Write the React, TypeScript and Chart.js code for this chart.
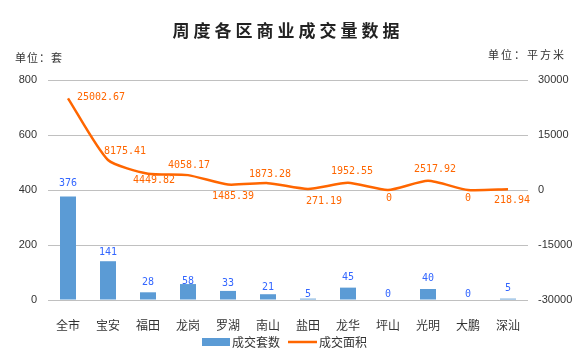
import React, { useEffect, useRef } from "react";
import { Chart, registerables } from "chart.js";

Chart.register(...registerables);

const categories = ["全市", "宝安", "福田", "龙岗", "罗湖", "南山", "盐田", "龙华", "坪山", "光明", "大鹏", "深汕"];
const unitCounts = [376, 141, 28, 58, 33, 21, 5, 45, 0, 40, 0, 5];
const areaValues = [25002.67, 8175.41, 4449.82, 4058.17, 1485.39, 1873.28, 271.19, 1952.55, 0, 2517.92, 0, 218.94];
const areaLabels = ["25002.67", "8175.41", "4449.82", "4058.17", "1485.39", "1873.28", "271.19", "1952.55", "0", "2517.92", "0", "218.94"];
const leftTicks = [0, 200, 400, 600, 800];
const rightTicks = [-30000, -15000, 0, 15000, 30000];

// label placement offsets (dx, dy) relative to each line point
const areaLabelOffsets: [number, number][] = [
  [33, -1], [17, -9], [6, 7], [1, -10], [5, 12], [2, -9],
  [16, 12], [4, -11], [1, 8], [7, -11], [0, 8], [4, 11],
];
const barLabelDy = [-13, -9, -10, -3, -8, -7, -4, -10, -6, -11, -6, -10];

const BLUE = "#5B9BD5";
const ORANGE = "#FF6600";
const LABEL_BLUE = "#3366FF";
const GRID = "#C0C0C0";
const SANS = "'Liberation Sans', Arial, sans-serif";
const CJK = "'Noto Sans CJK SC', sans-serif";
const MONO = "'DejaVu Sans Mono', monospace";

const decorPlugin = {
  id: "decor",
  afterDraw(chart: any) {
    const ctx = chart.ctx as CanvasRenderingContext2D;
    ctx.save();
    // title
    ctx.fillStyle = "#222";
    ctx.font = `bold 17px ${CJK}`;
    (ctx as any).letterSpacing = "4px";
    ctx.textAlign = "center";
    ctx.textBaseline = "middle";
    ctx.fillText("周度各区商业成交量数据", 288, 31);
    // units
    ctx.font = `11px ${CJK}`;
    (ctx as any).letterSpacing = "1px";
    ctx.fillStyle = "#333";
    ctx.textAlign = "left";
    ctx.fillText("单位：套", 15, 58);
    ctx.textAlign = "right";
    (ctx as any).letterSpacing = "2px";
    ctx.fillText("单位：平方米", 566, 55);
    (ctx as any).letterSpacing = "0px";

    // bar labels
    const barMeta = chart.getDatasetMeta(0);
    ctx.font = `10px ${MONO}`;
    ctx.fillStyle = LABEL_BLUE;
    ctx.textAlign = "center";
    barMeta.data.forEach((el: any, i: number) => {
      ctx.fillText(String(unitCounts[i]), el.x, el.y + barLabelDy[i]);
    });
    // line labels
    const lineMeta = chart.getDatasetMeta(1);
    ctx.fillStyle = ORANGE;
    lineMeta.data.forEach((el: any, i: number) => {
      const [dx, dy] = areaLabelOffsets[i];
      ctx.fillText(areaLabels[i], el.x + dx, el.y + dy);
    });

    // legend
    ctx.fillStyle = BLUE;
    ctx.fillRect(202, 338, 28, 8);
    ctx.fillStyle = "#333";
    ctx.font = `12px ${CJK}`;
    ctx.textAlign = "left";
    ctx.fillText("成交套数", 232, 342);
    ctx.strokeStyle = ORANGE;
    ctx.lineWidth = 2.5;
    ctx.beginPath();
    ctx.moveTo(288, 342);
    ctx.lineTo(317, 342);
    ctx.stroke();
    ctx.fillText("成交面积", 319, 342);
    ctx.restore();
  },
};

export default function App() {
  const ref = useRef<HTMLCanvasElement>(null);
  useEffect(() => {
    document.body.style.margin = "0";
    const chart = new Chart(ref.current!, {
      type: "bar",
      data: {
        labels: categories,
        datasets: [
          {
            type: "bar",
            label: "成交套数",
            data: unitCounts,
            backgroundColor: BLUE,
            barPercentage: 0.4,
            categoryPercentage: 1,
            yAxisID: "y",
            order: 2,
          },
          {
            type: "line",
            label: "成交面积",
            data: areaValues,
            borderColor: ORANGE,
            backgroundColor: ORANGE,
            borderWidth: 2.5,
            pointRadius: 0,
            tension: 0.2,
            yAxisID: "y1",
            order: 1,
          } as any,
        ],
      },
      options: {
        responsive: false,
        animation: false,
        layout: { padding: { top: 80, left: 0, right: 0, bottom: 0 } },
        plugins: { legend: { display: false }, tooltip: { enabled: false }, title: { display: false } },
        scales: {
          x: {
            grid: { display: false },
            border: { display: false },
            ticks: { color: "#333", font: { family: CJK, size: 12 }, padding: 10 },
            afterFit(s: any) { s.height = 58; },
          },
          y: {
            position: "left",
            min: 0,
            max: 800,
            afterBuildTicks(s: any) { s.ticks = leftTicks.map((v) => ({ value: v })); },
            grid: { color: GRID, drawTicks: false },
            border: { display: false },
            ticks: { color: "#333", font: { family: SANS, size: 11 }, padding: 11, callback: (v: any) => String(v) },
            afterFit(s: any) { s.width = 48; },
          },
          y1: {
            position: "right",
            min: -30000,
            max: 30000,
            afterBuildTicks(s: any) { s.ticks = rightTicks.map((v) => ({ value: v })); },
            grid: { display: false, drawTicks: false },
            border: { display: false },
            ticks: { color: "#333", font: { family: SANS, size: 11 }, padding: 10, callback: (v: any) => String(v) },
            afterFit(s: any) { s.width = 56; },
          },
        },
      },
      plugins: [decorPlugin],
    });
    return () => chart.destroy();
  }, []);
  return (
    <div style={{ width: 584, height: 358 }}>
      <canvas ref={ref} width={584} height={358} style={{ display: "block" }} />
    </div>
  );
}
